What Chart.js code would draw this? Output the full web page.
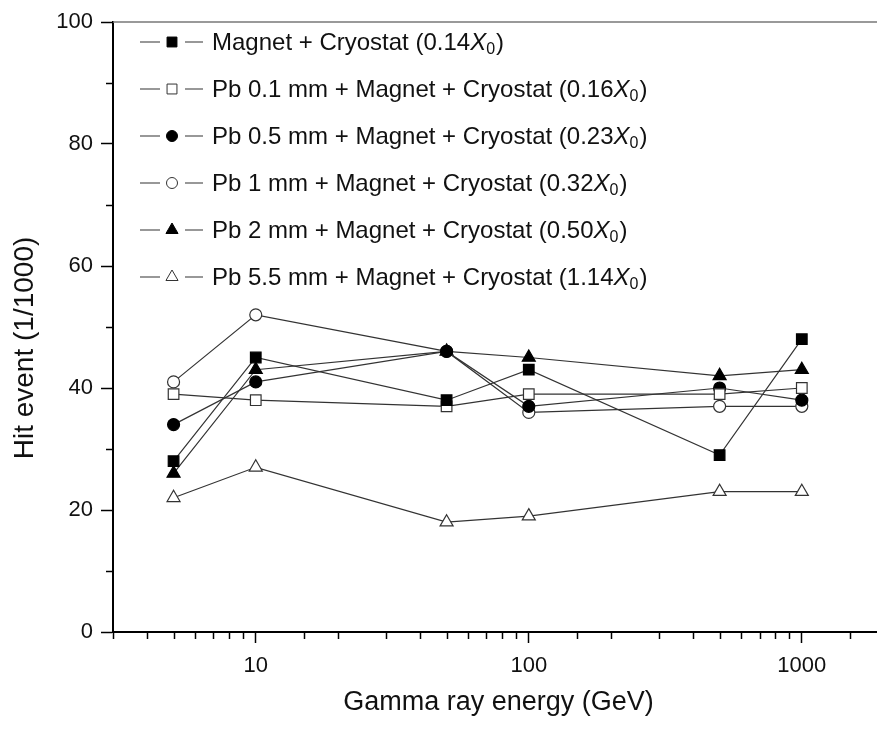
<!DOCTYPE html>
<html>
<head>
<meta charset="utf-8">
<script src="https://cdn.jsdelivr.net/npm/chart.js@4/dist/chart.umd.min.js"></script>
<style>
  html, body { margin: 0; padding: 0; background: #fff; overflow: hidden; }
  #wrap { position: absolute; left: 0; top: 0; width: 900px; height: 731px; }
</style>
</head>
<body>
<div id="wrap"><canvas id="myChart" width="900" height="731"></canvas></div>
<script>
// Data
const energies = [5, 10, 50, 100, 500, 1000];
const magnetCryostat = [28, 45, 38, 43, 29, 48];
const pb01 = [39, 38, 37, 39, 39, 40];
const pb05 = [34, 41, 46, 37, 40, 38];
const pb1 = [41, 52, 46, 36, 37, 37];
const pb2 = [26, 43, 46, 45, 42, 43];
const pb55 = [22, 27, 18, 19, 23, 23];

const seriesNames = [
  "Magnet + Cryostat",
  "Pb 0.1 mm + Magnet + Cryostat",
  "Pb 0.5 mm + Magnet + Cryostat",
  "Pb 1 mm + Magnet + Cryostat",
  "Pb 2 mm + Magnet + Cryostat",
  "Pb 5.5 mm + Magnet + Cryostat"
];
const radLengths = ["0.14", "0.16", "0.23", "0.32", "0.50", "1.14"];
const seriesValues = [magnetCryostat, pb01, pb05, pb1, pb2, pb55];
const markerStyles = ['rect', 'rect', 'circle', 'circle', 'triangle', 'triangle'];
const markerFilled = [true, false, true, false, true, false];
const markerRadius = { rect: 7.5, circle: 6, triangle: 7.5 };
const legendRadius = { rect: 7, circle: 5.5, triangle: 7 };

const yTicks = [0, 20, 40, 60, 80, 100];
const xTickLabels = [10, 100, 1000];
const yTitle = 'Hit event (1/1000)';

const FONT = "'Liberation Sans', Arial, sans-serif";
Chart.defaults.font.family = FONT;
Chart.defaults.color = '#111';

function isMajorX(v) { return xTickLabels.indexOf(v) >= 0; }

var datasets = [];
for (let i = 0; i < seriesNames.length; i++) {
  datasets.push({
    label: seriesNames[i] + " (" + radLengths[i] + "X\u2080)",
    data: energies.map((e, j) => ({ x: e, y: seriesValues[i][j] })),
    borderColor: '#333',
    borderWidth: 1.2,
    pointStyle: markerStyles[i],
    pointRadius: markerRadius[markerStyles[i]],
    pointBackgroundColor: markerFilled[i] ? '#000' : '#fff',
    pointBorderColor: markerFilled[i] ? '#000' : '#333',
    pointBorderWidth: 1.2,
    fill: false,
    tension: 0
  });
}

// minor ticks, top frame line, y title and the in-plot legend
const extras = {
  id: 'extras',
  afterDraw(chart) {
    const c = chart.ctx;
    const area = chart.chartArea;
    const xs = chart.scales.x, ys = chart.scales.y;
    c.save();
    c.strokeStyle = '#000';
    c.lineWidth = 1.5;
    // minor x ticks
    xs.ticks.forEach(t => {
      if (isMajorX(t.value)) return;
      const px = Math.round(xs.getPixelForValue(t.value)) + 0.5;
      c.beginPath(); c.moveTo(px, area.bottom); c.lineTo(px, area.bottom + 7); c.stroke();
    });
    // minor y ticks
    ys.ticks.forEach(t => {
      if (yTicks.indexOf(t.value) >= 0) return;
      const py = Math.round(ys.getPixelForValue(t.value)) + 0.5;
      c.beginPath(); c.moveTo(area.left - 7, py); c.lineTo(area.left, py); c.stroke();
    });
    // top frame
    c.strokeStyle = '#777';
    c.lineWidth = 1.5;
    c.beginPath(); c.moveTo(area.left, area.top); c.lineTo(area.right + 20, area.top); c.stroke();

    // y axis title (sits a little below the axis centre in the original)
    c.save();
    c.translate(25, 348);
    c.rotate(-Math.PI / 2);
    c.fillStyle = '#111';
    c.font = "28px " + FONT;
    c.textAlign = 'center';
    c.textBaseline = 'middle';
    c.fillText(yTitle, 0, 0);
    c.restore();

    // legend
    for (let i = 0; i < seriesNames.length; i++) {
      const y = 42 + 47 * i;
      c.strokeStyle = '#333';
      c.lineWidth = 1.2;
      c.beginPath(); c.moveTo(140, y); c.lineTo(160, y); c.moveTo(185, y); c.lineTo(203, y); c.stroke();
      c.fillStyle = markerFilled[i] ? '#000' : '#fff';
      c.strokeStyle = markerFilled[i] ? '#000' : '#333';
      c.lineWidth = 1;
      Chart.helpers.drawPoint(c, { pointStyle: markerStyles[i], radius: legendRadius[markerStyles[i]], rotation: 0, borderWidth: 1 }, 172, y);

      c.fillStyle = '#111';
      c.textBaseline = 'middle';
      c.textAlign = 'left';
      let x = 212;
      c.font = "24px " + FONT;
      const s1 = seriesNames[i] + " (" + radLengths[i];
      c.fillText(s1, x, y + 1); x += c.measureText(s1).width;
      c.font = "italic 24px " + FONT;
      c.fillText("X", x, y + 1); x += c.measureText("X").width;
      c.font = "16px " + FONT;
      c.fillText("0", x, y + 8); x += c.measureText("0").width + 1;
      c.font = "24px " + FONT;
      c.fillText(")", x, y + 1);
    }
    c.restore();
  }
};

var ctx = document.getElementById('myChart');
var chart = new Chart(ctx, {
  type: 'line',
  data: { datasets: datasets },
  options: {
    responsive: false,
    animation: false,
    layout: { padding: { top: 22, right: 16, left: 0, bottom: 0 } },
    plugins: { legend: { display: false }, tooltip: { enabled: false } },
    scales: {
      x: {
        type: 'logarithmic',
        min: 3,
        max: 2000,
        afterFit: s => { s.height = 99; },
        border: { color: '#000', width: 2 },
        grid: {
          drawOnChartArea: false,
          tickLength: 11,
          tickWidth: 1.5,
          tickColor: c => (c.tick && isMajorX(c.tick.value)) ? '#000' : 'rgba(0,0,0,0)'
        },
        ticks: {
          autoSkip: false,
          maxRotation: 0,
          padding: 10,
          font: { size: 22 },
          color: '#111',
          callback: v => isMajorX(v) ? String(v) : ''
        },
        title: {
          display: true,
          text: 'Gamma ray energy (GeV)',
          font: { size: 27 },
          color: '#111',
          padding: { top: 0, bottom: 12 }
        }
      },
      y: {
        min: 0,
        max: 100,
        afterFit: s => { s.width = 113; },
        border: { color: '#000', width: 2 },
        grid: {
          drawOnChartArea: false,
          tickLength: 12,
          tickWidth: 1.5,
          tickColor: c => (c.tick && yTicks.indexOf(c.tick.value) >= 0) ? '#000' : 'rgba(0,0,0,0)'
        },
        ticks: {
          stepSize: 10,
          padding: 8,
          font: { size: 22 },
          color: '#111',
          callback: v => yTicks.indexOf(v) >= 0 ? String(v) : ''
        },
        title: { display: false }
      }
    }
  },
  plugins: [extras]
});
</script>
</body>
</html>
